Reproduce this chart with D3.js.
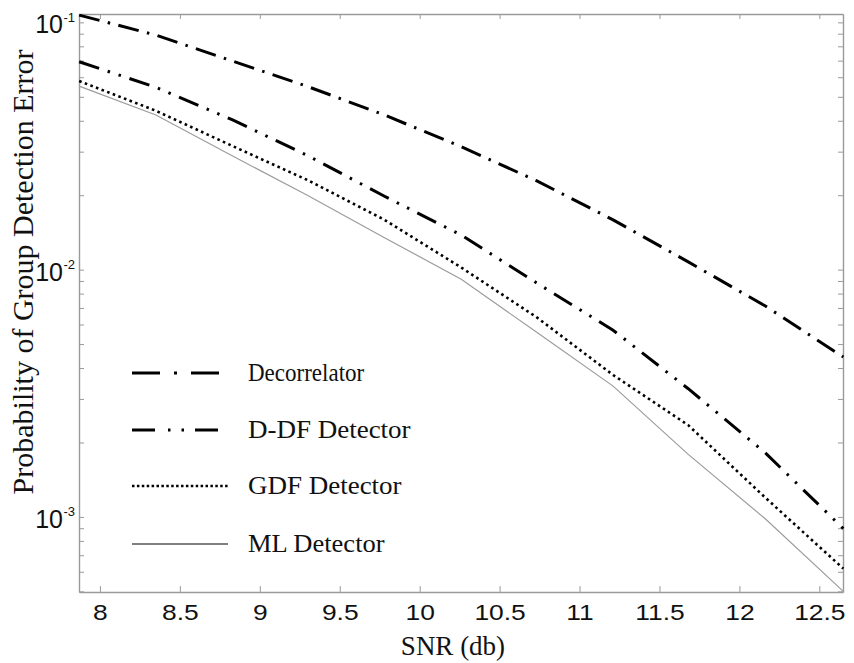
<!DOCTYPE html>
<html>
<head>
<meta charset="utf-8">
<script src="https://cdnjs.cloudflare.com/ajax/libs/d3/7.8.5/d3.min.js"></script>
<style>
	body { margin: 0; background: #fff; }
	svg { display: block; }
</style>
</head>
<body>
<script>

// SNR points (db) and error probabilities

var snr = [7.87, 8.35, 8.83, 9.30, 9.78, 10.26, 10.73, 11.21, 11.68, 12.16, 12.65];

var decorrelator = [0.107, 0.0888, 0.0697, 0.055, 0.0422, 0.0314, 0.0229, 0.0159, 0.01075, 0.00714, 0.00443];
var ddf          = [0.0693, 0.0546, 0.0403, 0.0289, 0.0198, 0.0138, 0.00885, 0.00569, 0.0033, 0.00182, 0.000897];
var gdf          = [0.0579, 0.0439, 0.0316, 0.0230, 0.0159, 0.0102, 0.00643, 0.00375, 0.00235, 0.0012, 0.000618];
var ml           = [0.0552, 0.0422, 0.0288, 0.01995, 0.01346, 0.00915, 0.00559, 0.00338, 0.00179, 0.000985, 0.0005];

var seriesNames = ['Decorrelator', 'D-DF Detector', 'GDF Detector', 'ML Detector'];

var xTicks = [8, 8.5, 9, 9.5, 10, 10.5, 11, 11.5, 12, 12.5];
var yLabelTicks = [1e-1, 1e-2, 1e-3];
var yLabelExp = ['-1', '-2', '-3'];

(function(){

	var w = 854;
	var h = 663;
	var margin = {top: 14, right: 11, bottom: 71, left: 79};
	var pw = w - margin.left - margin.right;
	var ph = h - margin.top - margin.bottom;

	var axisGrey = '#9a9a9a';
	var sansFont = '"Liberation Sans", Arial, Helvetica, sans-serif';
	var serifFont = '"Liberation Serif", "Times New Roman", Times, serif';

	var svg = d3.select('body')
				.append('svg')
				.attr('width', w)
				.attr('height', h);

	var g = svg.append('g')
				.attr('transform', 'translate(' + margin.left + ',' + margin.top + ')');

	var x = d3.scaleLinear()
				.domain([7.869, 12.648])
				.range([0, pw]);

	var y = d3.scaleLog()
				.domain([0.000497, 0.1081])
				.range([ph, 0]);

	// boxed axes, ticks pointing in
	var yMinor = y.ticks();

	g.append('g')
		.attr('class', 'axis')
		.attr('transform', 'translate(0,' + ph + ')')
		.call(d3.axisBottom(x)
			.tickValues(xTicks)
			.tickFormat(function(d){ return String(d); })
			.tickSize(-6)
			.tickSizeOuter(0)
			.tickPadding(12));

	g.append('g')
		.attr('class', 'axis')
		.call(d3.axisTop(x).tickValues(xTicks).tickSize(-5).tickSizeOuter(0).tickFormat(''));

	g.append('g')
		.attr('class', 'axis')
		.call(d3.axisLeft(y).tickValues(yMinor).tickSize(-5).tickSizeOuter(0).tickFormat(''));

	g.append('g')
		.attr('class', 'axis')
		.attr('transform', 'translate(' + pw + ',0)')
		.call(d3.axisRight(y).tickValues(yMinor).tickSize(-5).tickSizeOuter(0).tickFormat(''));

	g.selectAll('.axis path')
		.attr('stroke', axisGrey)
		.attr('stroke-width', 1.4);

	g.selectAll('.axis line')
		.attr('stroke', axisGrey)
		.attr('stroke-width', 1);

	g.selectAll('.axis text')
		.attr('fill', '#111')
		.attr('font-family', sansFont)
		.attr('font-size', 22)
		.attr('transform', 'scale(1.2,1)');

	// y labels as 10 with a raised exponent
	var yLab = g.selectAll('.ylab')
				.data(yLabelTicks)
				.enter()
				.append('g')
				.attr('class', 'ylab')
				.attr('transform', function(d){
					return 'translate(-16,' + y(d) + ')';
				});

	yLab.append('text')
		.attr('y', 11)
		.attr('text-anchor', 'end')
		.attr('font-family', sansFont)
		.attr('font-size', 25)
		.attr('fill', '#111')
		.text('10');

	yLab.append('text')
		.attr('x', 0.5)
		.attr('y', -0.5)
		.attr('font-family', sansFont)
		.attr('font-size', 13)
		.attr('fill', '#111')
		.text(function(d, i){
			return yLabelExp[i];
		});

	// curves
	var series = [
		{name: seriesNames[0], values: decorrelator, color: '#000', width: 3, dash: '21,8.5,2.5,8.5', legendDash: '28,14,3,14', textScale: 0.92},
		{name: seriesNames[1], values: ddf, color: '#000', width: 3, dash: '21,9,2.5,9,2.5,9', legendDash: '23,13,2.5,11,2.5,11', textScale: 1.08},
		{name: seriesNames[2], values: gdf, color: '#000', width: 2.6, dash: '2.6,3.4', legendDash: '2.5,2.4', textScale: 1.08},
		{name: seriesNames[3], values: ml, color: '#9c9c9c', width: 1.2, dash: null, legendDash: null, textScale: 1.06}
	];

	var line = d3.line()
				.x(function(d){ return x(d[0]); })
				.y(function(d){ return y(d[1]); });

	g.selectAll('path.curve')
		.data(series)
		.enter()
		.append('path')
		.attr('class', 'curve')
		.attr('fill', 'none')
		.attr('stroke', function(d){ return d.color; })
		.attr('stroke-width', function(d){ return d.width; })
		.attr('stroke-dasharray', function(d){ return d.dash; })
		.attr('d', function(d){
			return line(d3.zip(snr, d.values));
		});

	// legend
	var legendY = [373, 430, 486, 544];

	var leg = svg.selectAll('.legend')
				.data(series)
				.enter()
				.append('g')
				.attr('class', 'legend')
				.attr('transform', function(d, i){
					return 'translate(132,' + legendY[i] + ')';
				});

	leg.append('line')
		.attr('x1', 0)
		.attr('x2', function(d, i){ return i == 0 ? 88 : 96; })
		.attr('y1', 0)
		.attr('y2', 0)
		.attr('stroke', function(d, i){ return i == 3 ? '#555' : '#000'; })
		.attr('stroke-width', function(d, i){ return i == 3 ? 1.6 : d.width; })
		.attr('stroke-dasharray', function(d){ return d.legendDash; });

	leg.append('text')
		.attr('transform', function(d){
			return 'translate(116,8) scale(' + d.textScale + ',1)';
		})
		.attr('font-family', serifFont)
		.attr('font-size', 25)
		.attr('fill', '#111')
		.text(function(d){ return d.name; });

	// axis titles
	svg.append('text')
		.attr('x', 453)
		.attr('y', 655)
		.attr('text-anchor', 'middle')
		.attr('font-family', serifFont)
		.attr('font-size', 27)
		.attr('fill', '#111')
		.text('SNR (db)');

	svg.append('text')
		.attr('transform', 'translate(33,272) rotate(-90)')
		.attr('text-anchor', 'middle')
		.attr('font-family', serifFont)
		.attr('font-size', 30)
		.attr('fill', '#111')
		.text('Probability of Group Detection Error');

})();

</script>
</body>
</html>
